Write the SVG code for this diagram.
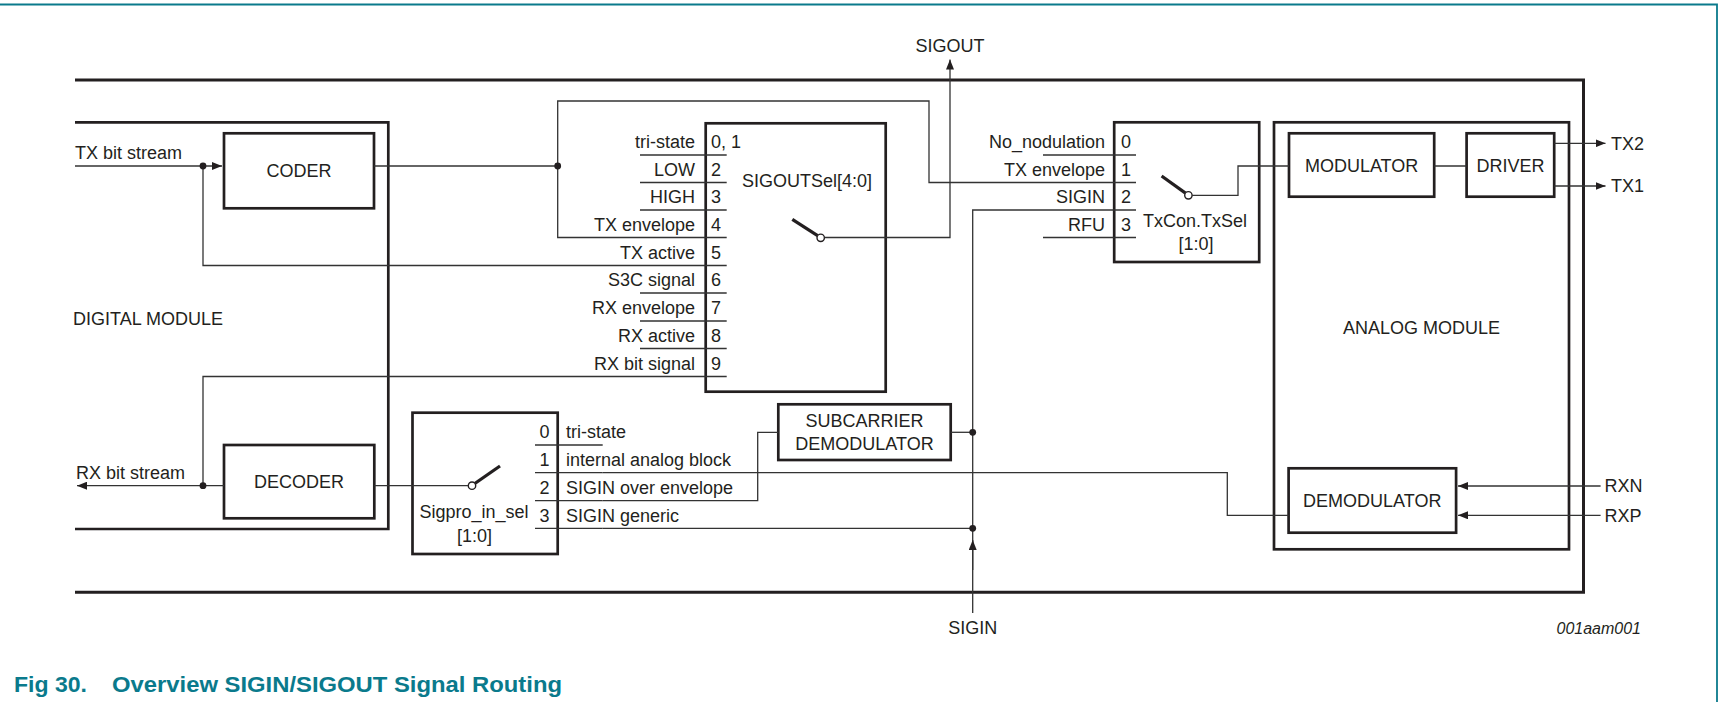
<svg xmlns="http://www.w3.org/2000/svg" width="1724" height="702" viewBox="0 0 1724 702">
<defs>
<style>
text{font-family:"Liberation Sans",Arial,sans-serif;font-size:18px;fill:#231f20}
.m{text-anchor:middle}
.e{text-anchor:end}
.box{fill:none;stroke:#231f20;stroke-width:2.7}
.frame{fill:none;stroke:#231f20;stroke-width:3}
.ln{fill:none;stroke:#333;stroke-width:1.3}
.sw{stroke:#231f20;stroke-width:3.2;stroke-linecap:butt}
.pivot{fill:#fff;stroke:#231f20;stroke-width:1.4}
.dot{fill:#231f20}
.cap{font-weight:bold;font-size:22px;fill:#0a7a8c}
.id{font-style:italic;font-size:16px}
</style>
<marker id="arr" markerUnits="userSpaceOnUse" markerWidth="10" markerHeight="8" refX="10" refY="4" orient="auto">
<path d="M0,0 L10,4 L0,8 z" fill="#231f20"/>
</marker>
</defs>
<rect width="1724" height="702" fill="#fff"/>
<path d="M0,4.5 H1717 V702" fill="none" stroke="#0a7a8c" stroke-width="1.8"/>

<g id="outer-module">
<path class="frame" d="M75,80 H1583.5 V592.3 H75"/>
</g>

<g id="digital-module">
<path class="box" d="M75,122.3 H388.3 V529 H75"/>
<text x="73" y="325">DIGITAL MODULE</text>
</g>

<g id="analog-module">
<rect class="box" x="1274" y="122.3" width="295" height="427"/>
<text class="m" x="1421.5" y="334">ANALOG MODULE</text>
</g>

<g id="coder">
<rect class="box" x="224" y="133.3" width="150" height="75"/>
<text class="m" x="299" y="177">CODER</text>
</g>

<g id="decoder">
<rect class="box" x="224" y="445" width="150.3" height="73.3"/>
<text class="m" x="299" y="488">DECODER</text>
</g>

<g id="sigoutsel">
<rect class="box" x="705.7" y="123.3" width="180" height="268.4"/>
<path class="ln" d="M640,155 H726.7 M640,182.5 H726.7 M640,210 H726.7 M640,237.5 H726.7 M640,265.5 H726.7 M640,293 H726.7 M640,321 H726.7 M640,348.5 H726.7 M640,376.5 H726.7"/>
<text class="e" x="695" y="148.3">tri-state</text>
<text class="e" x="695" y="175.8">LOW</text>
<text class="e" x="695" y="203.3">HIGH</text>
<text class="e" x="695" y="230.8">TX envelope</text>
<text class="e" x="695" y="258.8">TX active</text>
<text class="e" x="695" y="286.3">S3C signal</text>
<text class="e" x="695" y="314.3">RX envelope</text>
<text class="e" x="695" y="341.8">RX active</text>
<text class="e" x="695" y="369.8">RX bit signal</text>
<text x="711" y="148.3">0, 1</text>
<text x="711" y="175.8">2</text>
<text x="711" y="203.3">3</text>
<text x="711" y="230.8">4</text>
<text x="711" y="258.8">5</text>
<text x="711" y="286.3">6</text>
<text x="711" y="314.3">7</text>
<text x="711" y="341.8">8</text>
<text x="711" y="369.8">9</text>
<text x="742" y="186.7">SIGOUTSel[4:0]</text>
<line class="sw" x1="792.3" y1="219.3" x2="817.6" y2="235.6"/>
<circle class="pivot" cx="820.7" cy="237.8" r="3.7"/>
</g>

<g id="txcon-txsel">
<rect class="box" x="1114.2" y="122.3" width="145" height="139.7"/>
<path class="ln" d="M1043,155 H1136 M1043,182.5 H1136 M1043,210 H1136 M1043,237.5 H1136"/>
<text class="e" x="1105" y="148.3">No_nodulation</text>
<text class="e" x="1105" y="175.8">TX envelope</text>
<text class="e" x="1105" y="203.3">SIGIN</text>
<text class="e" x="1105" y="230.8">RFU</text>
<text x="1121" y="148.3">0</text>
<text x="1121" y="175.8">1</text>
<text x="1121" y="203.3">2</text>
<text x="1121" y="230.8">3</text>
<text class="m" x="1195" y="226.7">TxCon.TxSel</text>
<text class="m" x="1196" y="250">[1:0]</text>
<line class="sw" x1="1161.6" y1="176" x2="1185.5" y2="193.1"/>
<circle class="pivot" cx="1188.4" cy="195.3" r="3.7"/>
</g>

<g id="sigpro-in-sel">
<rect class="box" x="412.5" y="412.7" width="145.2" height="141.3"/>
<path class="ln" d="M535,445 H602.7 M535,472.7 H602.7 M535,500.7 H602.7 M535,528.3 H602.7"/>
<text class="m" x="544.5" y="438.3">0</text>
<text class="m" x="544.5" y="466">1</text>
<text class="m" x="544.5" y="493.7">2</text>
<text class="m" x="544.5" y="521.7">3</text>
<text x="566" y="438.3">tri-state</text>
<text x="566" y="466">internal analog block</text>
<text x="566" y="493.7">SIGIN over envelope</text>
<text x="566" y="521.7">SIGIN generic</text>
<text class="m" x="474" y="518.3">Sigpro_in_sel</text>
<text class="m" x="474.6" y="541.7">[1:0]</text>
<line class="sw" x1="474.8" y1="483.5" x2="500" y2="466"/>
<circle class="pivot" cx="472" cy="485.7" r="3.7"/>
</g>

<g id="subcarrier-demodulator">
<rect class="box" x="778.3" y="404.3" width="172.4" height="55.7"/>
<text class="m" x="864.5" y="426.7">SUBCARRIER</text>
<text class="m" x="864.5" y="450">DEMODULATOR</text>
</g>

<g id="modulator">
<rect class="box" x="1289" y="133.3" width="145.2" height="63.4"/>
<text class="m" x="1361.6" y="171.7">MODULATOR</text>
</g>

<g id="driver">
<rect class="box" x="1466.6" y="133.3" width="87.6" height="63.4"/>
<text class="m" x="1510.4" y="171.7">DRIVER</text>
</g>

<g id="demodulator">
<rect class="box" x="1288.6" y="468.3" width="167.5" height="64.4"/>
<text class="m" x="1372.3" y="507">DEMODULATOR</text>
</g>

<g id="connectors">
<path class="ln" d="M75,166 H222" marker-end="url(#arr)"/>
<path class="ln" d="M203,166 V265.5 H640"/>
<path class="ln" d="M374,166 H557.7"/>
<path class="ln" d="M640,237.5 H557.7 V101 H929 V182.5 H1043"/>
<path class="ln" d="M824.4,237.5 H950 V59.5" marker-end="url(#arr)"/>
<path class="ln" d="M1043,210 H972.7 V613"/>
<path class="ln" d="M972.7,570 V540" marker-end="url(#arr)"/>
<path class="ln" d="M950.7,432.3 H972.7"/>
<path class="ln" d="M602.7,472.7 H1227.3 V515.3 H1288.6"/>
<path class="ln" d="M602.7,500.7 H757.7 V432.3 H778.3"/>
<path class="ln" d="M602.7,528.3 H972.7"/>
<path class="ln" d="M640,376.5 H203 V485.7"/>
<path class="ln" d="M224,485.7 H77" marker-end="url(#arr)"/>
<path class="ln" d="M374.3,485.7 H468.3"/>
<path class="ln" d="M1192.1,195.3 H1238 V166 H1289"/>
<path class="ln" d="M1434.2,166 H1466.6"/>
<path class="ln" d="M1554.2,143.3 H1605.5" marker-end="url(#arr)"/>
<path class="ln" d="M1554.2,186 H1605.5" marker-end="url(#arr)"/>
<path class="ln" d="M1600.6,486 H1458" marker-end="url(#arr)"/>
<path class="ln" d="M1600.6,515.3 H1458" marker-end="url(#arr)"/>
<circle class="dot" cx="203" cy="166" r="3.4"/>
<circle class="dot" cx="557.7" cy="166" r="3.4"/>
<circle class="dot" cx="203" cy="485.7" r="3.4"/>
<circle class="dot" cx="972.7" cy="432.3" r="3.4"/>
<circle class="dot" cx="972.7" cy="528.3" r="3.4"/>
</g>

<g id="labels">
<text x="75" y="159">TX bit stream</text>
<text x="76" y="479">RX bit stream</text>
<text class="m" x="950" y="51.7">SIGOUT</text>
<text class="m" x="972.7" y="634">SIGIN</text>
<text x="1611" y="149.6">TX2</text>
<text x="1611" y="192.3">TX1</text>
<text x="1604.6" y="492">RXN</text>
<text x="1604.6" y="521.5">RXP</text>
<text class="id e" x="1641" y="634">001aam001</text>
<text class="cap" x="14" y="692" textLength="73" lengthAdjust="spacingAndGlyphs">Fig 30.</text>
<text class="cap" x="112" y="692" textLength="450" lengthAdjust="spacingAndGlyphs">Overview SIGIN/SIGOUT Signal Routing</text>
</g>
</svg>
